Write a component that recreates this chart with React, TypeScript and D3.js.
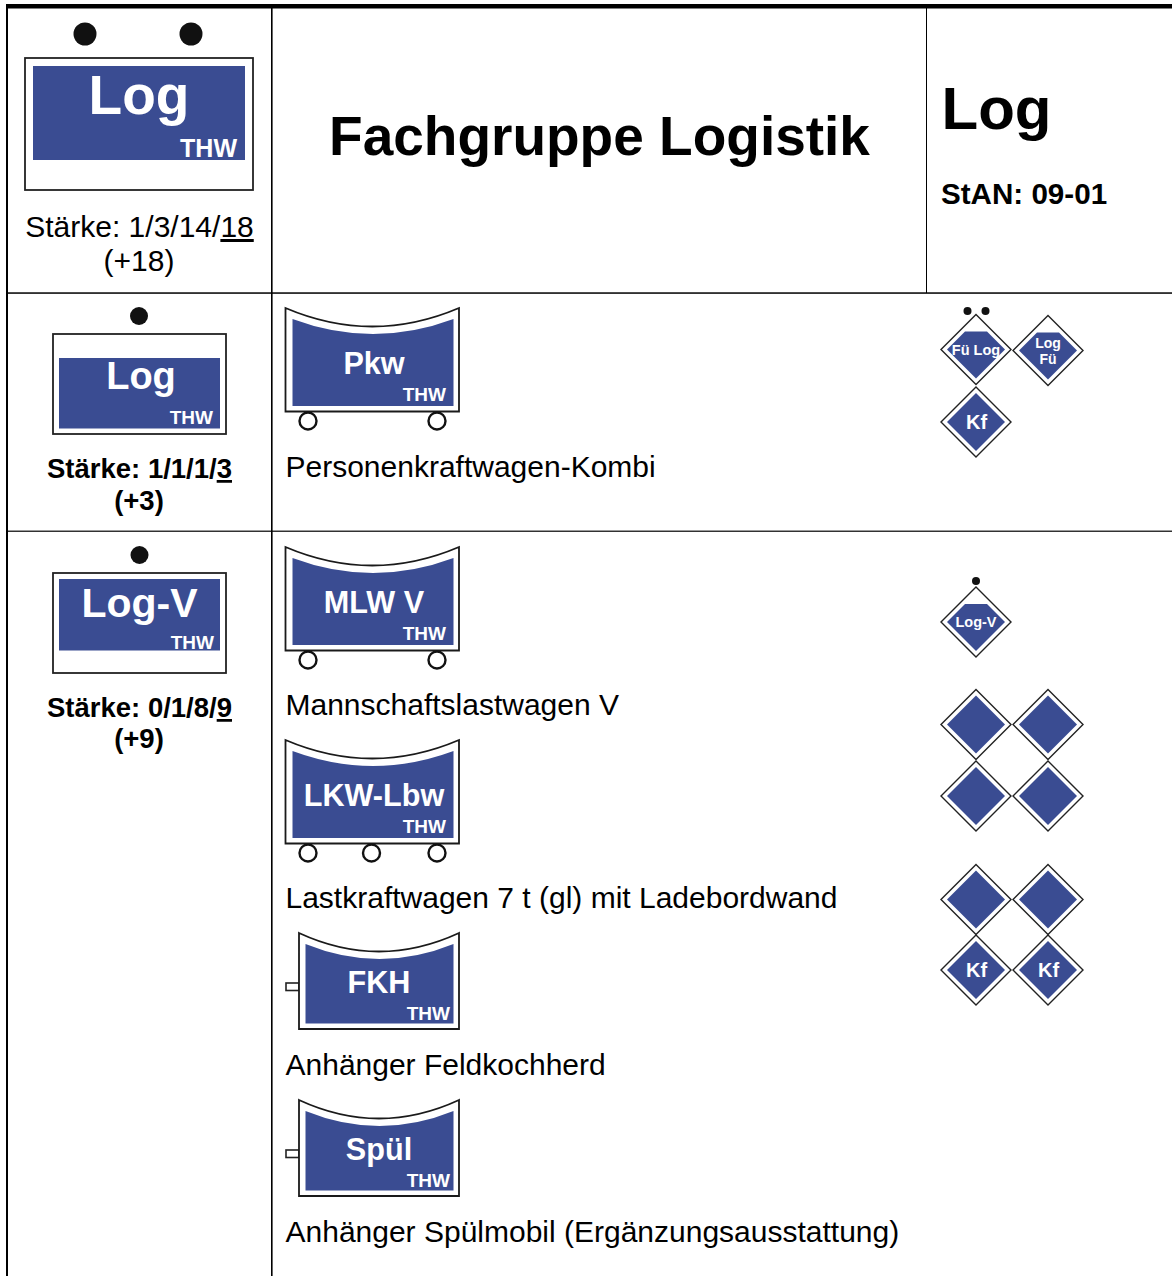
import React from "react";
import * as d3 from "d3";

const BLUE = "#3a4c92";
const INK = "#111";
const FONT = '"Liberation Sans", Arial, sans-serif';

// Content
const title = "Fachgruppe Logistik";
const shortName = "Log";
const stan = "StAN: 09-01";
const unitLabels = ["Log", "Log", "Log-V"];
const unitDots = [2, 1, 1];
const strengthHead = ["Stärke: 1/3/14/", "Stärke: 1/1/1/", "Stärke: 0/1/8/"];
const strengthTotal = ["18", "3", "9"];
const strengthExtra = ["(+18)", "(+3)", "(+9)"];
const vehicleLabels = ["Pkw", "MLW V", "LKW-Lbw", "FKH", "Spül"];
const vehicleCaptions = [
  "Personenkraftwagen-Kombi",
  "Mannschaftslastwagen V",
  "Lastkraftwagen 7 t (gl) mit Ladebordwand",
  "Anhänger Feldkochherd",
  "Anhänger Spülmobil (Ergänzungsausstattung)",
];
const vehicleWheels = [2, 2, 3, 0, 0];
// crew diamonds, one entry per sign
const diamondLines = [
  ["Fü Log"], ["Log", "Fü"], ["Kf"],
  ["Log-V"],
  [], [], [], [],
  [], [], ["Kf"], ["Kf"],
];
const diamondDots = [2, 0, 0, 1, 0, 0, 0, 0, 0, 0, 0, 0];
const diamondCapped = [true, true, false, true, false, false, false, false, false, false, false, false];

// Layout
const diamondCol = [0, 1, 0, 0, 0, 1, 0, 1, 0, 1, 0, 1];
const diamondY = [349.5, 350.5, 422, 622, 724.5, 724.5, 796, 796, 899.5, 899.5, 970, 970];
const vehicleTop = [308, 547, 740, 933, 1100];
const captionY = [477, 715, 908, 1075, 1242];

const diamondX = d3.scalePoint<number>().domain([0, 1]).range([976, 1048]);
const line = d3.line();

function curvedBox(x0: number, x1: number, top: number, dip: number, bottom: number) {
  const p = d3.path();
  p.moveTo(x0, top);
  p.quadraticCurveTo((x0 + x1) / 2, top + dip * 2, x1, top);
  p.lineTo(x1, bottom);
  p.lineTo(x0, bottom);
  p.closePath();
  return p.toString();
}

function Dot({ x, y, r }: { x: number; y: number; r: number }) {
  return <circle cx={x} cy={y} r={r} fill={INK} />;
}

function Unit({ i, rect, blue, size, base, thw, cx }: any) {
  return (
    <g>
      <rect x={rect[0]} y={rect[1]} width={rect[2] - rect[0]} height={rect[3] - rect[1]} fill="#fff" stroke="#222" strokeWidth={1.8} />
      <rect x={blue[0]} y={blue[1]} width={blue[2] - blue[0]} height={blue[3] - blue[1]} fill={BLUE} />
      <text x={cx} y={base} textAnchor="middle" fontSize={size} fontWeight="bold" fill="#fff">{unitLabels[i]}</text>
      <text x={thw[0]} y={thw[1]} textAnchor="end" fontSize={thw[2]} fontWeight="bold" fill="#fff">THW</text>
    </g>
  );
}

function Strength({ i, y, dy, size, bold }: any) {
  const weight = bold ? "bold" : "normal";
  return (
    <g fontSize={size} fontWeight={weight} fill="#000" textAnchor="middle">
      <text x={139.5} y={y}>
        {strengthHead[i]}
        <tspan textDecoration="underline">{strengthTotal[i]}</tspan>
      </text>
      <text x={139} y={y + dy}>{strengthExtra[i]}</text>
    </g>
  );
}

function Vehicle({ i }: { i: number }) {
  const top = vehicleTop[i];
  const trailer = vehicleWheels[i] === 0;
  const x0 = trailer ? 299 : 285.5;
  const innerX0 = trailer ? 305.5 : 292.5;
  const height = trailer ? 96 : 103.5;
  const bottom = top + height;
  const wheels = vehicleWheels[i] === 3 ? [308, 371.5, 437] : [308, 437];
  const cx = trailer ? 379 : 374;
  return (
    <g>
      {trailer && (
        <rect x={286} y={top + 50} width={13} height={7.5} fill="#fff" stroke="#222" strokeWidth={1.6} />
      )}
      <path d={curvedBox(x0, 459, top, 18.5, bottom)} fill="#fff" stroke="#1a1a1a" strokeWidth={1.8} strokeLinejoin="miter" />
      <path d={curvedBox(innerX0, 453.5, top + 11, 15, bottom - 5.5)} fill={BLUE} />
      <text x={cx} y={top + (trailer ? 60 : 66)} textAnchor="middle" fontSize={30.6} fontWeight="bold" fill="#fff">
        {vehicleLabels[i]}
      </text>
      <text x={trailer ? 450 : 446} y={top + (trailer ? 87 : 92.5)} textAnchor="end" fontSize={19} fontWeight="bold" fill="#fff">THW</text>
      {!trailer && wheels.map((x) => (
        <circle key={x} cx={x} cy={bottom + 9.5} r={8.5} fill="#fff" stroke="#111" strokeWidth={2.4} />
      ))}
      <text x={285.5} y={captionY[i]} fontSize={30} fill="#000">{vehicleCaptions[i]}</text>
    </g>
  );
}

function Diamond({ i }: { i: number }) {
  const cx = diamondX(diamondCol[i]) as number;
  const cy = diamondY[i];
  const R = 35;
  const r = 29;
  const outer: [number, number][] = [[cx, cy - R], [cx + R, cy], [cx, cy + R], [cx - R, cy]];
  const capY = cy - 18;
  const capDx = 11;
  const inner: [number, number][] = diamondCapped[i]
    ? [[cx - capDx, capY], [cx + capDx, capY], [cx + r, cy], [cx, cy + r], [cx - r, cy]]
    : [[cx, cy - r], [cx + r, cy], [cx, cy + r], [cx - r, cy]];
  const lines = diamondLines[i];
  const dots = diamondDots[i];
  const isKf = lines[0] === "Kf";
  return (
    <g>
      <path d={line(outer) + "Z"} fill="#fff" stroke="#222" strokeWidth={1.4} />
      <path d={line(inner) + "Z"} fill={BLUE} />
      {lines.length === 1 && (
        <text x={cx + (isKf ? 0.5 : 0)} y={cy + (isKf ? 6.8 : 5)} textAnchor="middle" fontSize={isKf ? 20 : 14.5} fontWeight="bold" fill="#fff">
          {lines[0]}
        </text>
      )}
      {lines.length === 2 && lines.map((t, k) => (
        <text key={t} x={cx} y={cy - 2.5 + k * 15.5} textAnchor="middle" fontSize={14} fontWeight="bold" fill="#fff">{t}</text>
      ))}
      {dots === 2 && <><Dot x={cx - 8.5} y={cy - 38.5} r={4} /><Dot x={cx + 9.5} y={cy - 38.5} r={4} /></>}
      {dots === 1 && <Dot x={cx} y={cy - 41} r={4} />}
    </g>
  );
}

export default function App() {
  return (
    <svg
      width={1172}
      height={1276}
      style={{ position: "absolute", left: 0, top: 0, display: "block", background: "#fff" }}
      fontFamily={FONT}
    >
      {/* table rules */}
      <rect x={6} y={4} width={1166} height={4.5} fill="#000" />
      <rect x={6} y={4} width={2} height={1272} fill="#000" />
      <rect x={271} y={8} width={1.6} height={1268} fill="#000" />
      <rect x={926} y={8} width={1} height={285} fill="#000" />
      <rect x={8} y={292.3} width={1164} height={1.5} fill="#000" />
      <rect x={8} y={530.6} width={1164} height={1.2} fill="#000" />

      {/* header */}
      {d3.range(unitDots[0]).map((k) => <Dot key={k} x={85 + k * 106} y={34} r={11.5} />)}
      <Unit i={0} rect={[25, 58, 253, 190]} blue={[33, 66, 245, 160]} size={55} base={114} thw={[237, 157, 25]} cx={139} />
      <Strength i={0} y={237} dy={34} size={30} bold={false} />
      <text x={599.5} y={154.5} textAnchor="middle" fontSize={55} fontWeight="bold" fill="#000">{title}</text>
      <text x={941.5} y={129} fontSize={60} fontWeight="bold" fill="#000">{shortName}</text>
      <text x={941} y={204} fontSize={29.6} fontWeight="bold" fill="#000">{stan}</text>

      {/* squads */}
      <Dot x={139} y={316} r={9} />
      <Unit i={1} rect={[53, 334, 226, 434]} blue={[59, 358, 220, 428.5]} size={38} base={389} thw={[213, 423.5, 19]} cx={141} />
      <Strength i={1} y={478} dy={32} size={27.5} bold />
      <Dot x={139.5} y={555} r={9} />
      <Unit i={2} rect={[53, 573, 226, 673]} blue={[59, 579, 220, 650.5]} size={41} base={617} thw={[214, 648.5, 19]} cx={139.5} />
      <Strength i={2} y={717} dy={31} size={27.5} bold />

      {vehicleLabels.map((_, i) => <Vehicle key={i} i={i} />)}
      {diamondLines.map((_, i) => <Diamond key={i} i={i} />)}
    </svg>
  );
}
